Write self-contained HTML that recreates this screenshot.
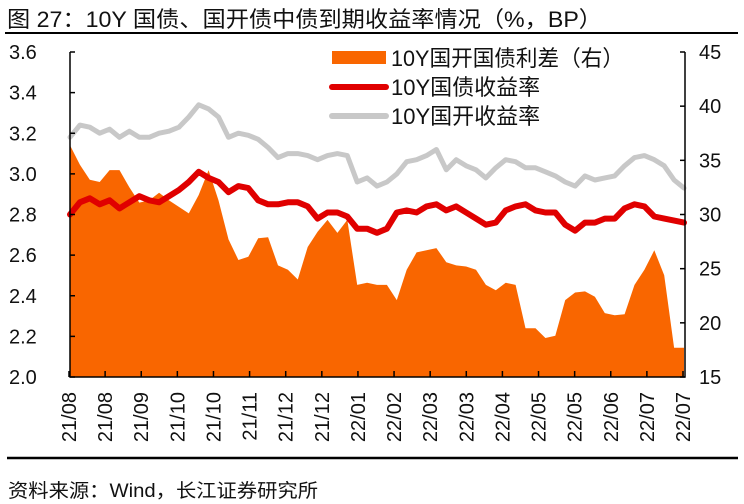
<!DOCTYPE html>
<html><head><meta charset="utf-8">
<style>
body{margin:0;background:#fff;width:744px;height:504px;overflow:hidden;font-family:"Liberation Sans","Noto Sans CJK SC",sans-serif;}
svg{position:absolute;left:0;top:0;}
</style></head>
<body>
<svg id="chart" width="744" height="504" viewBox="0 0 744 504">
<text x="7" y="27" font-size="22" fill="#111" font-family="Liberation Sans, Noto Sans CJK SC, sans-serif" textLength="595" lengthAdjust="spacingAndGlyphs">图 27：10Y 国债、国开债中债到期收益率情况（%，BP）</text>
<line x1="5" y1="33" x2="738" y2="33" stroke="#000" stroke-width="2"/>
<line x1="7" y1="458" x2="738" y2="458" stroke="#000" stroke-width="2.5"/>
<text x="8" y="497" font-size="19" fill="#111" font-family="Liberation Sans, Noto Sans CJK SC, sans-serif" textLength="310" lengthAdjust="spacingAndGlyphs">资料来源：Wind，长江证券研究所</text>
<g id="plot"></g>
<g>
<rect x="332" y="51" width="54" height="13" fill="#f96600"/>
<text x="391" y="66" font-size="22" fill="#111" font-family="Liberation Sans, Noto Sans CJK SC, sans-serif" textLength="233" lengthAdjust="spacingAndGlyphs">10Y国开国债利差（右）</text>
<line x1="332" y1="87" x2="386" y2="87" stroke="#e00000" stroke-width="6" stroke-linecap="round"/>
<text x="391" y="95" font-size="22" fill="#111" font-family="Liberation Sans, Noto Sans CJK SC, sans-serif">10Y国债收益率</text>
<line x1="332" y1="116" x2="386" y2="116" stroke="#c8c8c8" stroke-width="6" stroke-linecap="round"/>
<text x="391" y="124" font-size="22" fill="#111" font-family="Liberation Sans, Noto Sans CJK SC, sans-serif">10Y国开收益率</text>
</g>
</svg>
<script>
const xLabels=["21/08","21/08","21/09","21/10","21/10","21/11","21/12","21/12","22/01","22/02","22/03","22/03","22/04","22/05","22/05","22/06","22/07","22/07"];
const leftTicks=[2.0,2.2,2.4,2.6,2.8,3.0,3.2,3.4,3.6];
const rightTicks=[15,20,25,30,35,40,45];
const cdbYield=[3.18,3.24,3.23,3.20,3.22,3.18,3.21,3.18,3.18,3.20,3.21,3.23,3.28,3.34,3.32,3.28,3.18,3.20,3.19,3.17,3.13,3.08,3.10,3.10,3.09,3.07,3.09,3.10,3.09,2.96,2.98,2.94,2.96,3.00,3.06,3.07,3.09,3.12,3.02,3.07,3.04,3.02,2.98,3.03,3.07,3.06,3.03,3.03,3.01,2.99,2.96,2.94,2.99,2.97,2.98,2.99,3.04,3.08,3.09,3.07,3.04,2.97,2.93];
const cgbYield=[2.80,2.86,2.88,2.85,2.87,2.83,2.86,2.89,2.87,2.86,2.89,2.92,2.96,3.01,2.98,2.96,2.91,2.94,2.93,2.87,2.85,2.85,2.86,2.86,2.84,2.78,2.81,2.81,2.79,2.73,2.73,2.71,2.73,2.81,2.82,2.81,2.84,2.85,2.82,2.84,2.81,2.78,2.75,2.76,2.82,2.84,2.85,2.82,2.81,2.81,2.75,2.72,2.76,2.76,2.78,2.78,2.83,2.85,2.84,2.79,2.78,2.77,2.76];
const spreadBP=[36.4,34.6,33.2,33.0,34.1,34.1,32.5,31.1,31.3,32.0,31.3,30.7,30.1,31.8,34.1,31.3,27.7,25.8,26.1,27.8,27.9,25.3,24.9,24.0,27.0,28.4,29.5,28.3,29.5,23.5,23.7,23.5,23.5,22.1,24.9,26.5,26.7,26.9,25.6,25.3,25.2,24.9,23.5,23.0,23.7,23.5,19.5,19.5,18.6,18.8,22.1,22.8,22.9,22.4,20.9,20.7,20.8,23.5,24.9,26.7,24.4,17.7,17.7];

const NS="http://www.w3.org/2000/svg";
const X0=70,X1=685,YT=52,YB=377;
const yL=v=>YB-(v-2.0)/(3.6-2.0)*(YB-YT);
const yR=v=>YB-(v-15)/(45-15)*(YB-YT);
const xI=(i,n)=>X0+i*(684-X0)/(n-1);
const xTick=i=>69+i*(683-69)/(xLabels.length-1);
const g=document.getElementById('plot');
function mk(tag,attrs){const e=document.createElementNS(NS,tag);for(const k in attrs)e.setAttribute(k,attrs[k]);g.appendChild(e);return e;}

let d=`M${X0},${YB}`;
spreadBP.forEach((v,i)=>{d+=` L${xI(i,spreadBP.length).toFixed(1)},${yR(v).toFixed(1)}`;});
d+=` L${xI(spreadBP.length-1,spreadBP.length).toFixed(1)},${YB} Z`;
const area=mk('path',{d:d,fill:'#f96600'});



function line(arr,color,w,name){
  const p=arr.map((v,i)=>`${i?'L':'M'}${xI(i,arr.length).toFixed(1)},${yL(v).toFixed(1)}`).join(' ');
  const e=mk('path',{d:p,fill:'none',stroke:color,'stroke-width':w,'stroke-linejoin':'round','stroke-linecap':'round'});
  
  
}
line(cdbYield,'#c8c8c8',5,'cdb-yield-line');
line(cgbYield,'#e00000',6,'cgb-yield-line');

const ax=mk('path',{d:`M${X0},${YT} V${YB} H${X1} V${YT}`,fill:'none',stroke:'#000','stroke-width':1.5});


leftTicks.forEach(v=>{
  const y=yL(v);
  mk('line',{x1:X0,y1:y,x2:X0+5,y2:y,stroke:'#000','stroke-width':1.5});
  const t=mk('text',{x:9,y:y+7,'font-size':20,fill:'#111','font-family':'Liberation Sans, sans-serif'});
  t.textContent=v.toFixed(1);
  
  
});
rightTicks.forEach(v=>{
  const y=yR(v);
  mk('line',{x1:X1-5,y1:y,x2:X1,y2:y,stroke:'#000','stroke-width':1.5});
  const t=mk('text',{x:699,y:y+7,'font-size':20,fill:'#111','font-family':'Liberation Sans, sans-serif'});
  t.textContent=v;
  
  
});
xLabels.forEach((s,i)=>{
  const x=xTick(i);
  mk('line',{x1:x,y1:YB,x2:x,y2:YB-6,stroke:'#000','stroke-width':1.5});
  const t=mk('text',{x:0,y:0,'font-size':20,fill:'#111','font-family':'Liberation Sans, sans-serif','text-anchor':'end',transform:`translate(${x+7},392) rotate(-90)`});
  t.textContent=s;
  
  
});
</script>
</body></html>
